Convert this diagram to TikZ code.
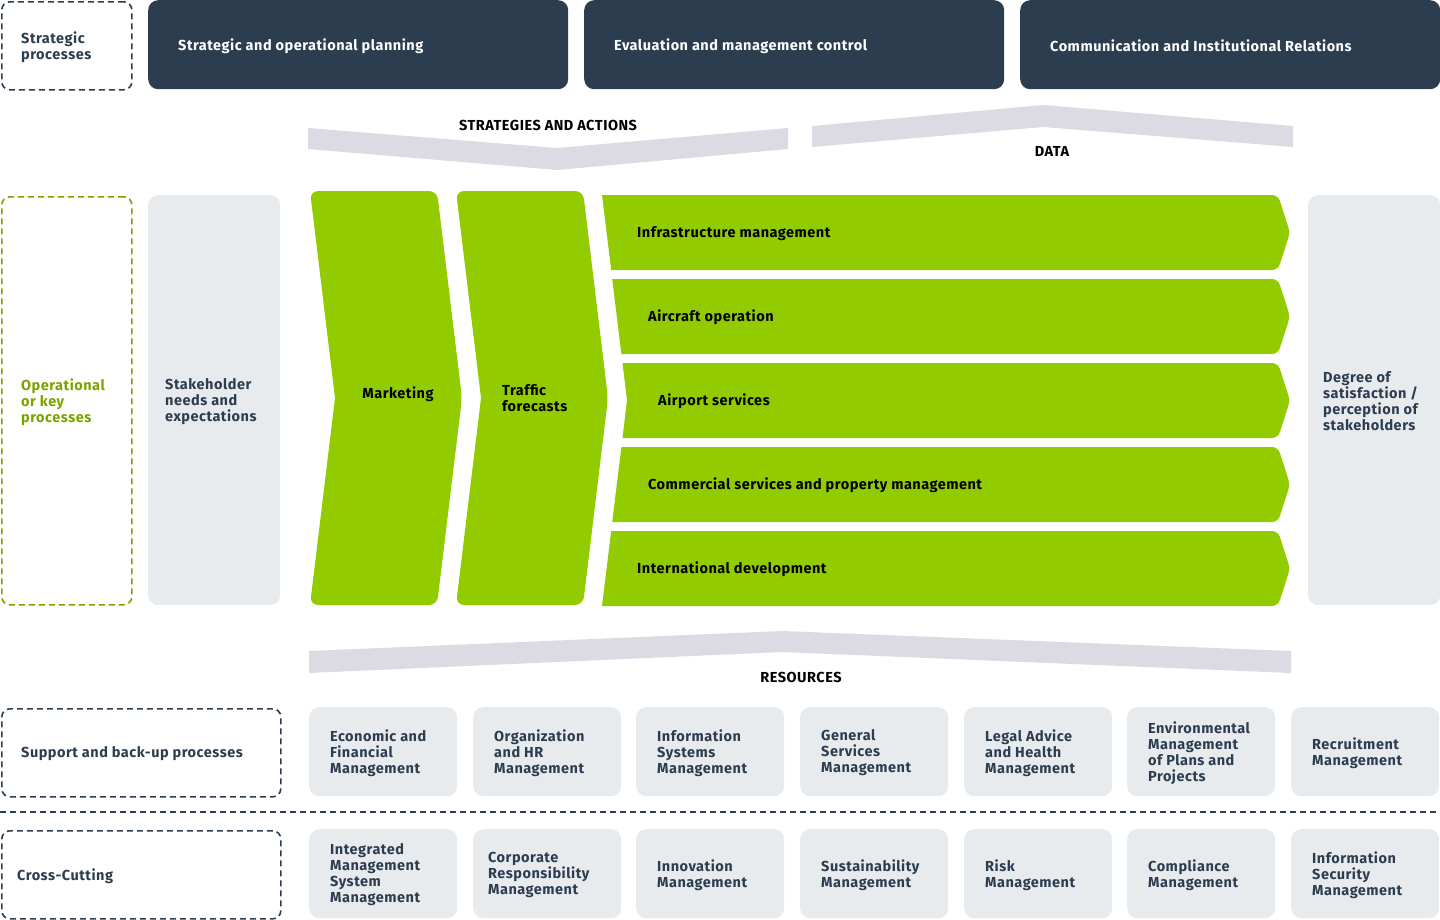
\documentclass[tikz,border=0pt]{standalone}
\usepackage{fontspec}
\setmainfont{Fira Sans}[LetterSpace=3.5]
\definecolor{navy}{HTML}{2B3D4F}
\definecolor{lime}{HTML}{92CC00}
\definecolor{olive}{HTML}{7BA300}
\definecolor{boxgray}{HTML}{E8EBEE}
\definecolor{band}{HTML}{DCDAE3}
\begin{document}
\begin{tikzpicture}[x=1pt,y=-1pt,
  txt/.style={font=\fontsize{14.5}{16}\selectfont\bfseries, align=left, inner sep=0pt, anchor=west, yshift=-1.2pt},
  navytxt/.style={txt, text=navy},
  dashbox/.style={draw=navy, line width=1.6pt, dash pattern=on 6pt off 4pt, rounded corners=8pt, inner sep=0pt},
  darkbox/.style={fill=navy, rounded corners=10pt, minimum width=420pt, minimum height=89pt, anchor=north west, inner sep=0pt},
  graybox/.style={fill=boxgray, rounded corners=10pt, minimum width=148pt, minimum height=89pt, anchor=north west, inner sep=0pt},
  tallbox/.style={fill=boxgray, rounded corners=10pt, minimum width=132pt, minimum height=410pt, anchor=north west, inner sep=0pt},
  bandshape/.style={fill=band},
  greenshape/.style={fill=lime}
]
\useasboundingbox (0,0) rectangle (1440,919);

% ---- top row
\node[dashbox, minimum width=130pt, minimum height=88pt, anchor=north west] (sp) at (1,1) {};
\node[navytxt] (sptxt) at ([xshift=20pt]sp.west) {Strategic\\processes};
\node[darkbox] (d1) at (148,0) {};
\node[darkbox] (d2) at (584,0) {};
\node[darkbox] (d3) at (1020,0) {};
\node[txt, text=white] (d1t) at ([xshift=30pt]d1.west) {Strategic and operational planning};
\node[txt, text=white] (d2t) at ([xshift=30pt]d2.west) {Evaluation and management control};
\node[txt, text=white] (d3t) at ([xshift=30pt]d3.west) {Communication and Institutional Relations};

% ---- strategies band
\fill[bandshape] (308,128) -- (557,148) -- (788,128) -- (788,149) -- (557,170) -- (308,149) -- cycle;
\node[txt, anchor=center] (sa) at (548,124) {STRATEGIES AND ACTIONS};
% ---- data band
\fill[bandshape] (812,126) -- (1043,105) -- (1293,126) -- (1293,147) -- (1043,127) -- (812,147) -- cycle;
\node[txt, anchor=center] (da) at (1052,150) {DATA};

% ---- middle section
\node[dashbox, draw=olive, minimum width=130pt, minimum height=408pt, anchor=north west] (op) at (1,196) {};
\node[txt, text=olive] (optxt) at ([xshift=20pt]op.west) {Operational\\or key\\processes};
\node[tallbox] (sh) at (148,195) {};
\node[navytxt] (shtxt) at ([xshift=17pt]sh.west) {Stakeholder\\needs and\\expectations};
\node[tallbox] (dg) at (1308,195) {};
\node[navytxt] (dgtxt) at ([xshift=15pt]dg.west) {Degree of\\satisfaction /\\perception of\\stakeholders};

% chevrons
\fill[greenshape] (335,398) [rounded corners=8pt] -- (310,605) -- (437,605) -- (462,398) -- (437,191) -- (310,191) [sharp corners] -- cycle;
\node[txt, anchor=center] (mk) at (398,393) {Marketing};
\fill[greenshape] (481,398) [rounded corners=8pt] -- (456,605) -- (583,605) -- (608,398) -- (583,191) -- (456,191) [sharp corners] -- cycle;
\node[txt] (tf) at (502,397) {Traffic\\forecasts};

% bands
\fill[greenshape] (602,195) -- (611.2,270) [rounded corners=6pt] -- (1278,270) -- (1290,232.5) -- (1278,195) [sharp corners] -- cycle;
\fill[greenshape] (612.2,279) -- (621.4,354) [rounded corners=6pt] -- (1278,354) -- (1290,316.5) -- (1278,279) [sharp corners] -- cycle;
\fill[greenshape] (622.5,363) -- (627,400) -- (622.5,438) [rounded corners=6pt] -- (1278,438) -- (1290,400.5) -- (1278,363) [sharp corners] -- cycle;
\fill[greenshape] (621.4,447) -- (612.2,522) [rounded corners=6pt] -- (1278,522) -- (1290,484.5) -- (1278,447) [sharp corners] -- cycle;
\fill[greenshape] (611.2,531) -- (602,606) [rounded corners=6pt] -- (1278,606) -- (1290,568.5) -- (1278,531) [sharp corners] -- cycle;
\node[txt] (im) at (637,232) {Infrastructure management};
\node[txt] (ao) at (648,316) {Aircraft operation};
\node[txt] (as) at (658,400) {Airport services};
\node[txt] (cs) at (648,484) {Commercial services and property management};
\node[txt] (id) at (637,568) {International development};

% ---- resources band
\fill[bandshape] (309,651) -- (782,631) -- (1291,651) -- (1291,673) -- (782,652) -- (309,673) -- cycle;
\node[txt, anchor=center] (rs) at (801,676) {RESOURCES};

% ---- support row
\node[dashbox, minimum width=279pt, minimum height=88pt, anchor=north west] (su) at (1,708) {};
\node[navytxt] (sutxt) at ([xshift=20pt]su.west) {Support and back-up processes};
\foreach \i/\x/\t in {1/309/{Economic and\\Financial\\Management},
                      2/473/{Organization\\and HR\\Management},
                      3/636/{Information\\Systems\\Management},
                      4/800/{General\\Services\\Management},
                      5/964/{Legal Advice\\and Health\\Management},
                      6/1127/{Environmental\\Management\\of Plans and\\Projects},
                      7/1291/{Recruitment\\Management}}{
  \node[graybox] (b\i) at (\x,707) {};
  \node[navytxt] (bt\i) at ([xshift=21pt]b\i.west) {\t};
}

\coordinate (sepL) at (0,812);
\coordinate (sepR) at (1440,812);
\draw[navy, line width=1.2pt, dash pattern=on 6pt off 4pt] (sepL) -- (sepR);

% ---- cross-cutting row
\node[dashbox, minimum width=279pt, minimum height=88pt, anchor=north west] (cc) at (1,830) {};
\node[navytxt] (cctxt) at ([xshift=16pt]cc.west) {Cross-Cutting};
\foreach \i/\x/\o/\t in {1/309/21/{Integrated\\Management\\System\\Management},
                      2/473/15/{Corporate\\Responsibility\\Management},
                      3/636/21/{Innovation\\Management},
                      4/800/21/{Sustainability\\Management},
                      5/964/21/{Risk\\Management},
                      6/1127/21/{Compliance\\Management},
                      7/1291/21/{Information\\Security\\Management}}{
  \node[graybox] (c\i) at (\x,829) {};
  \node[navytxt] (ct\i) at ([xshift=\o pt]c\i.west) {\t};
}
\end{tikzpicture}
\end{document}
